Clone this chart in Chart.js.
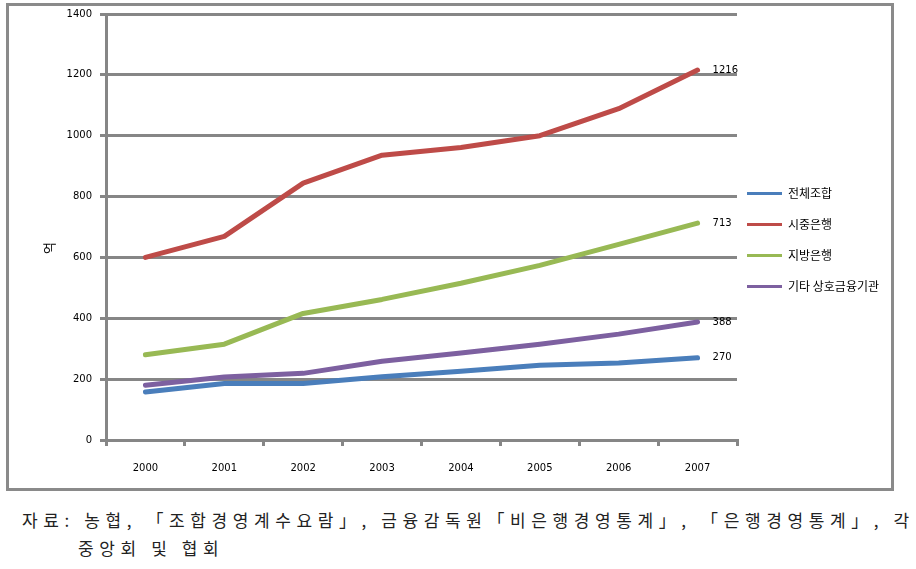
<!DOCTYPE html>
<html>
<head>
<meta charset="utf-8">
<script src="https://cdn.jsdelivr.net/npm/chart.js@4/dist/chart.umd.min.js"></script>
<style>
  body { margin: 0; background: #fff; }
  #wrap { position: relative; width: 916px; height: 569px; }
  #chart { position: absolute; left: 0; top: 0; }
  #frame { position: absolute; left: 6px; top: 3px; width: 888px; height: 488px; box-sizing: border-box; border: 3px solid #8a8a8a; pointer-events: none; }
  .note { position: absolute; left: 22px; top: 506px; font-family: "Noto Sans CJK KR"; font-size: 17px; letter-spacing: 5.6px; line-height: 28px; color: #222; white-space: nowrap; }
  .note span { padding-left: 56px; }
</style>
</head>
<body>
<div id="wrap">
  <canvas id="chart" width="916" height="495"></canvas>
  <div id="frame"></div>
  <div class="note">자료: 농협, 「조합경영계수요람」, 금융감독원「비은행경영통계」, 「은행경영통계」, 각<br><span>중앙회 및 협회</span></div>
</div>
<script>
const years = ["2000", "2001", "2002", "2003", "2004", "2005", "2006", "2007"];

// 억
const totalUnion = [158, 186, 186, 208, 226, 246, 253, 270];      // 전체조합
const commercialBanks = [600, 669, 844, 936, 961, 1000, 1089, 1216]; // 시중은행
const regionalBanks = [280, 315, 416, 462, 515, 574, 643, 713];     // 지방은행
const otherMutual = [180, 207, 219, 259, 286, 315, 348, 388];       // 기타 상호금융기관

const seriesNames = ["전체조합", "시중은행", "지방은행", "기타 상호금융기관"];
const seriesColors = ["#4a7ebb", "#be4b48", "#98b954", "#7d60a0"];
const yTitle = "억";

const gridColor = "#868686";
Chart.defaults.font.family = "DejaVu Sans";
Chart.defaults.color = "#000";

const makeSet = (i, values) => ({
  label: seriesNames[i],
  data: values,
  borderColor: seriesColors[i],
  backgroundColor: seriesColors[i],
  borderWidth: 5,
  pointRadius: 0,
  tension: 0,
  borderCapStyle: "round",
  borderJoinStyle: "round",
  fill: false,
});

// value at the end of each line + the rotated axis title
const extras = {
  id: "extras",
  afterLayout(chart) {
    // nudge the legend so it sits where the original one is
    const lg = chart.legend;
    lg.left -= 9; lg.right -= 9;
    lg.top -= 14; lg.bottom -= 14;
  },
  afterDatasetsDraw(chart) {
    const ctx = chart.ctx;
    ctx.save();
    ctx.font = '10px "DejaVu Sans"';
    ctx.fillStyle = "#000";
    ctx.textBaseline = "middle";
    chart.data.datasets.forEach((ds, i) => {
      const pts = chart.getDatasetMeta(i).data;
      const last = pts[pts.length - 1];
      ctx.fillText(String(ds.data[ds.data.length - 1]), last.x + 15, last.y);
    });
    ctx.translate(49, 248);
    ctx.rotate(-Math.PI / 2);
    ctx.textAlign = "center";
    ctx.font = '13px "Noto Sans CJK KR"';
    ctx.fillText(yTitle, 0, 0);
    ctx.restore();
  },
};

const config = {
  type: "line",
  data: {
    labels: years,
    datasets: [
      makeSet(0, totalUnion),
      makeSet(1, commercialBanks),
      makeSet(2, regionalBanks),
      makeSet(3, otherMutual),
    ],
  },
  options: {
    responsive: false,
    animation: false,
    layout: { padding: { left: 0, top: 13, right: 19, bottom: 0 } },
    plugins: {
      tooltip: { enabled: false },
      legend: {
        position: "right",
        maxWidth: 160,
        labels: {
          usePointStyle: true,
          pointStyle: "line",
          pointStyleWidth: 35,
          padding: 19,
          color: "#000",
          font: { family: "Noto Sans CJK KR", size: 12 },
          generateLabels(chart) {
            const items = Chart.defaults.plugins.legend.labels.generateLabels(chart);
            items.forEach((it) => { it.lineWidth = 3; it.pointStyle = "line"; });
            return items;
          },
        },
      },
    },
    scales: {
      x: {
        offset: true,
        grid: { offset: true, drawOnChartArea: false, tickLength: 6, color: gridColor, lineWidth: 3 },
        border: { color: gridColor, width: 3 },
        ticks: { font: { size: 10 }, padding: 16, maxRotation: 0 },
        afterFit(scale) { scale.height = 55; },
      },
      y: {
        min: 0,
        max: 1400,
        ticks: { stepSize: 200, font: { size: 10 }, padding: 8, callback: (v) => String(v) },
        grid: { color: gridColor, lineWidth: 3, tickLength: 6 },
        border: { color: gridColor, width: 3 },
        afterFit(scale) { scale.width = 106; },
      },
    },
  },
  plugins: [extras],
};

new Chart(document.getElementById("chart"), config);
</script>
</body>
</html>
